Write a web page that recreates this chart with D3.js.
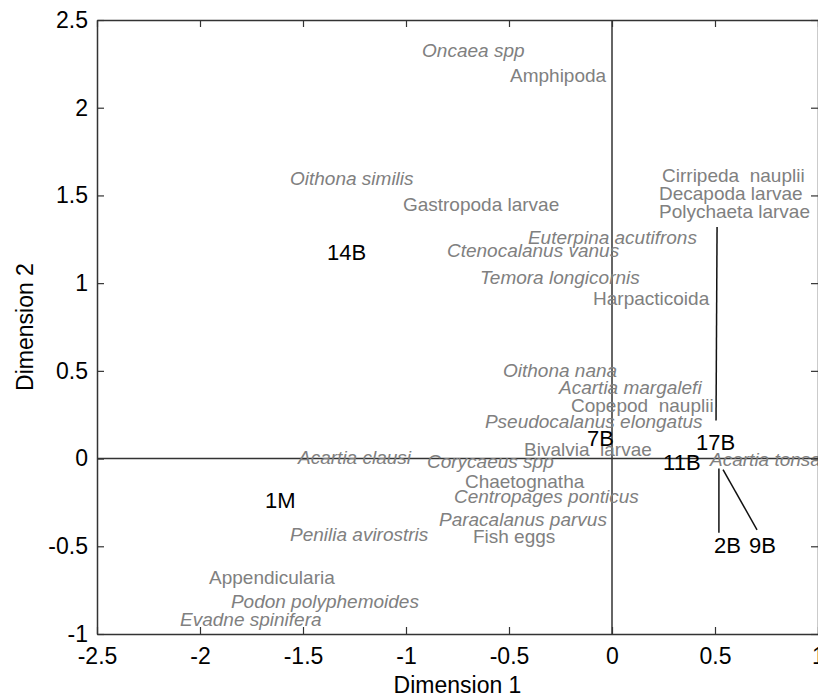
<!DOCTYPE html>
<html>
<head>
<meta charset="utf-8">
<script src="https://cdn.jsdelivr.net/npm/d3@7"></script>
<style>
  html, body { margin: 0; padding: 0; background: #fff; }
  svg { display: block; font-family: "Liberation Sans", Arial, Helvetica, sans-serif; }
</style>
</head>
<body>
<svg id="chart" width="818" height="697"></svg>
<script>
// MDS ordination: species (grey) and stations (black) on dimensions 1 and 2
const speciesNames = [
  "Oncaea spp", "Amphipoda", "Oithona similis", "Gastropoda larvae",
  "Cirripeda\u00a0 nauplii", "Decapoda larvae", "Polychaeta larvae",
  "Euterpina acutifrons", "Ctenocalanus vanus", "Temora longicornis",
  "Harpacticoida", "Oithona nana", "Acartia margalefi", "Copepod\u00a0 nauplii",
  "Pseudocalanus elongatus", "Bivalvia\u00a0 larvae", "Acartia clausi",
  "Corycaeus spp", "Acartia tonsa", "Chaetognatha", "Centropages ponticus",
  "Paracalanus parvus", "Fish eggs", "Penilia avirostris", "Appendicularia",
  "Podon polyphemoides", "Evadne spinifera"
];
const speciesX = [
  -0.922, -0.495, -1.563, -1.015,
  0.243, 0.228, 0.228,
  -0.408, -0.801, -0.641,
  -0.092, -0.529, -0.257, -0.199,
  -0.617, -0.427, -1.524,
  -0.898, 0.476, -0.714, -0.767,
  -0.840, -0.675, -1.563, -1.956,
  -1.850, -2.097
];
const speciesY = [
  2.291, 2.149, 1.560, 1.411,
  1.577, 1.474, 1.371,
  1.223, 1.149, 0.994,
  0.874, 0.463, 0.366, 0.263,
  0.177, 0.017, -0.029,
  -0.051, -0.040, -0.166, -0.251,
  -0.383, -0.480, -0.469, -0.714,
  -0.851, -0.954
];
// scientific (genus/species) names are set in italics
const speciesItalic = [
  true, false, true, false,
  false, false, false,
  true, true, true,
  false, true, true, false,
  true, false, true,
  true, true, false, true,
  true, false, true, false,
  true, true
];

const siteNames = ["14B", "1M", "7B", "17B", "11B", "2B", "9B"];
const siteX = [-1.383, -1.684, -0.121, 0.408, 0.248, 0.495, 0.665];
const siteY = [1.131, -0.280, 0.074, 0.051, -0.063, -0.537, -0.537];

// leader lines from displaced labels back to their positions
const leaderX1 = [0.510, 0.519, 0.539];
const leaderY1 = [1.320, -0.057, -0.063];
const leaderX2 = [0.505, 0.519, 0.704];
const leaderY2 = [0.217, -0.423, -0.406];

const xTicks = [-2.5, -2, -1.5, -1, -0.5, 0, 0.5, 1];
const yTicks = [-1, -0.5, 0, 0.5, 1, 1.5, 2, 2.5];
const xTitle = "Dimension 1";
const yTitle = "Dimension 2";

const svg = d3.select("#chart");
const plotLeft = 97, plotRight = 818, plotTop = 20, plotBottom = 634;

const x = d3.scaleLinear().domain([-2.5, 1]).range([plotLeft, plotRight]);
const y = d3.scaleLinear().domain([-1, 2.5]).range([plotBottom, plotTop]);

const frameColor = "#333";

// zero crosshair
svg.append("line")
  .attr("x1", x(0)).attr("x2", x(0)).attr("y1", y(2.5)).attr("y2", y(-1))
  .attr("stroke", frameColor).attr("stroke-width", 1.5);
svg.append("line")
  .attr("x1", x(-2.5)).attr("x2", x(1)).attr("y1", y(0)).attr("y2", y(0))
  .attr("stroke", frameColor).attr("stroke-width", 1.5);

// leader lines
svg.append("g").selectAll("line")
  .data(leaderX1.map((d, i) => i))
  .join("line")
  .attr("x1", i => x(leaderX1[i])).attr("y1", i => y(leaderY1[i]))
  .attr("x2", i => x(leaderX2[i])).attr("y2", i => y(leaderY2[i]))
  .attr("stroke", "#111").attr("stroke-width", 1.5);

// species labels
svg.append("g").selectAll("text")
  .data(speciesNames.map((d, i) => i))
  .join("text")
  .attr("x", i => x(speciesX[i]))
  .attr("y", i => y(speciesY[i]))
  .attr("font-size", 19)
  .attr("font-style", i => speciesItalic[i] ? "italic" : "normal")
  .attr("fill", "#808080")
  .text(i => speciesNames[i]);

// station labels
svg.append("g").selectAll("text")
  .data(siteNames.map((d, i) => i))
  .join("text")
  .attr("x", i => x(siteX[i]))
  .attr("y", i => y(siteY[i]))
  .attr("font-size", 22)
  .attr("fill", "#000")
  .text(i => siteNames[i]);

// axes with inward ticks, mirrored on top and right
function styleAxis(g) {
  g.select(".domain").attr("stroke", frameColor).attr("stroke-width", 1.5);
  g.selectAll(".tick line").attr("stroke", frameColor).attr("stroke-width", 1.2);
  g.selectAll(".tick text").attr("fill", "#000").attr("font-size", 23)
    .attr("font-family", "'Liberation Sans', Arial, sans-serif");
}
const fmt = d => String(d);

svg.append("g")
  .attr("transform", `translate(0,${plotBottom})`)
  .call(d3.axisBottom(x).tickValues(xTicks).tickFormat(fmt).tickSizeInner(-7).tickSizeOuter(0).tickPadding(14))
  .call(styleAxis);
svg.append("g")
  .attr("transform", `translate(${plotLeft},0)`)
  .call(d3.axisLeft(y).tickValues(yTicks).tickFormat(fmt).tickSizeInner(-7).tickSizeOuter(0).tickPadding(9))
  .call(styleAxis);
svg.append("g")
  .attr("transform", `translate(0,${plotTop})`)
  .call(d3.axisTop(x).tickValues(xTicks).tickFormat("").tickSizeInner(-7).tickSizeOuter(0))
  .call(styleAxis);
svg.append("g")
  .attr("transform", `translate(${plotRight},0)`)
  .call(d3.axisRight(y).tickValues(yTicks).tickFormat("").tickSizeInner(-7).tickSizeOuter(0))
  .call(styleAxis);

// axis titles
svg.append("text")
  .attr("x", (plotLeft + plotRight) / 2).attr("y", 693)
  .attr("text-anchor", "middle").attr("font-size", 23).attr("fill", "#000")
  .text(xTitle);
svg.append("text")
  .attr("transform", `translate(33,${(plotTop + plotBottom) / 2}) rotate(-90)`)
  .attr("text-anchor", "middle").attr("font-size", 23).attr("fill", "#000")
  .text(yTitle);
</script>
</body>
</html>
